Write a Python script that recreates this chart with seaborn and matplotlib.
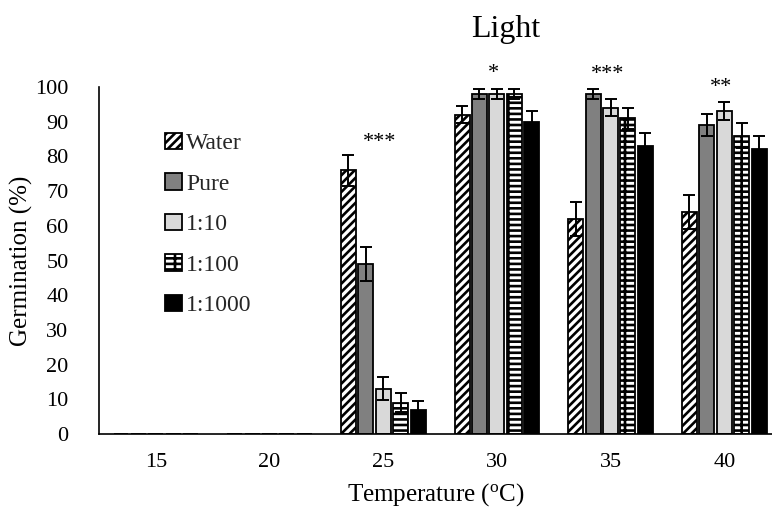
import matplotlib
matplotlib.use("Agg")
import matplotlib.pyplot as plt
import seaborn as sns
import pandas as pd
import numpy as np
from matplotlib.patches import Patch

temperatures = ["15", "20", "25", "30", "35", "40"]
treatments = ["Water", "Pure", "1:10", "1:100", "1:1000"]
water = [0, 0, 76, 92, 62, 64]
pure = [0, 0, 49, 98, 98, 89]
dil_10 = [0, 0, 13, 98, 94, 93]
dil_100 = [0, 0, 9, 98, 91, 86]
dil_1000 = [0, 0, 7, 90, 83, 82]
err_water = [0, 0, 4.5, 2.5, 5, 5]
err_pure = [0, 0, 5, 1.5, 1.5, 3.2]
err_10 = [0, 0, 3.3, 1.5, 2.4, 2.6]
err_100 = [0, 0, 2.8, 1.5, 3, 3.6]
err_1000 = [0, 0, 2.6, 3, 3.8, 3.9]
sig_labels = ["***", "*", "***", "**"]
sig_groups = ["25", "30", "35", "40"]
sig_heights = [84, 104, 103.5, 100]

values = [water, pure, dil_10, dil_100, dil_1000]
errors = [err_water, err_pure, err_10, err_100, err_1000]
df = pd.DataFrame({
    "Temperature": np.tile(temperatures, len(treatments)),
    "Treatment": np.repeat(treatments, len(temperatures)),
    "Germination": np.concatenate(values),
})

sns.set_theme(style="white")
plt.rcParams["font.family"] = ["Liberation Serif", "DejaVu Serif"]
plt.rcParams["mathtext.fontset"] = "custom"
plt.rcParams["mathtext.rm"] = "Liberation Serif"
plt.rcParams["hatch.linewidth"] = 1.9
plt.rcParams["hatch.color"] = "black"

fig = plt.figure(figsize=(7.72, 5.14), dpi=100)
ax = fig.add_axes([99 / 772, 1 - 434 / 514, (772 - 99) / 772, (434 - 87) / 514])

fills = ["white", "#808080", "#d9d9d9", "white", "black"]
hatches = ["////", "", "", "---|", ""]
palette = dict(zip(treatments, fills))

sns.barplot(data=df, x="Temperature", y="Germination", hue="Treatment",
            order=temperatures, hue_order=treatments, palette=palette,
            errorbar=None, width=0.766, gap=0.14, dodge=True,
            edgecolor="black", linewidth=1.3, saturation=1, ax=ax, legend=False)

for cont, h, err in zip(ax.containers, hatches, errors):
    xs, ys = [], []
    for bar in cont:
        bar.set_hatch(h)
        bar.set_edgecolor("black")
        xs.append(bar.get_x() + bar.get_width() / 2)
        ys.append(bar.get_height())
    xs = np.array(xs); ys = np.array(ys); e = np.array(err)
    m = e > 0
    ax.errorbar(xs[m], ys[m], yerr=e[m], fmt="none", ecolor="black",
                elinewidth=1.4, capsize=4.5, capthick=1.4, zorder=5)

for lab, g, yv in zip(sig_labels, sig_groups, sig_heights):
    ax.text(temperatures.index(g) - 0.03, yv, lab, ha="center", va="center",
            fontsize=16, color="black")

handles = [Patch(facecolor=f, edgecolor="black", hatch=h, linewidth=1.3)
           for f, h in zip(fills, hatches)]
leg = ax.legend(handles, treatments, loc="upper left",
                bbox_to_anchor=(0.084, 0.895), frameon=False, fontsize=17,
                handlelength=0.7, handleheight=0.7, handletextpad=0.2,
                labelspacing=0.8, borderaxespad=0)

ax.set_ylim(0, 100)
ax.set_xlim(-0.5, 5.42)
ax.set_yticks(range(0, 101, 10))
ax.tick_params(axis="both", length=0, labelsize=16, colors="black")
ax.tick_params(axis="x", pad=14)
ax.tick_params(axis="y", pad=22)
for s in ["top", "right"]:
    ax.spines[s].set_visible(False)
for s in ["left", "bottom"]:
    ax.spines[s].set_color("black")
    ax.spines[s].set_linewidth(1.2)

ax.set_xlabel("Temperature ($\\mathregular{^o}$C)", fontsize=18, labelpad=6, color="black")
ax.set_ylabel("Germination (%)", fontsize=18, color="black")
ax.yaxis.set_label_coords(-0.098, 0.5)
fig.text(506 / 772, 1 - 30 / 514, "Light", ha="center", va="center", fontsize=23, color="black")

fig.savefig("out.png", dpi=100)
